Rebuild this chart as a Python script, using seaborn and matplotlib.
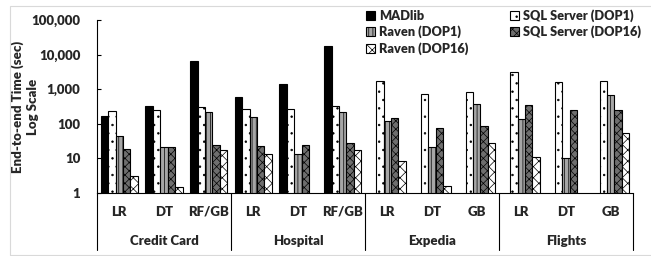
import numpy as np
import pandas as pd
import seaborn as sns
import matplotlib.pyplot as plt
from matplotlib.patches import Rectangle
from matplotlib.ticker import FixedLocator, FuncFormatter, NullLocator

datasets = ["Credit Card", "Hospital", "Expedia", "Flights"]
models = [["LR", "DT", "RF/GB"], ["LR", "DT", "RF/GB"], ["LR", "DT", "GB"], ["LR", "DT", "GB"]]
systems = ["MADlib", "SQL Server (DOP1)", "Raven (DOP1)", "SQL Server (DOP16)", "Raven (DOP16)"]

nan = np.nan
madlib = [170, 330, 6400, 585, 1390, 18000, nan, nan, nan, nan, nan, nan]
sql_dop1 = [235, 250, 300, 275, 275, 325, 1700, 710, 810, 3150, 1610, 1700]
raven_dop1 = [45, 22, 215, 155, 13, 215, 118, 22, 375, 138, 10.3, 690]
sql_dop16 = [19, 21, 24.5, 23, 24, 28, 144, 77, 87, 350, 250, 255]
raven_dop16 = [3.1, 1.45, 17.5, 13.7, nan, 18, 8.6, 1.56, 28.5, 10.7, nan, 56]

sns.set_theme(style="white")
plt.rcParams["font.family"] = ["Lato", "DejaVu Sans"]
plt.rcParams["font.weight"] = "heavy"
plt.rcParams["hatch.linewidth"] = 0.5
FW = "heavy"

# long table for seaborn
cats = [f"{d}|{m}" for d, ms in zip(datasets, models) for m in ms]
rows = []
for s, vals in zip(systems, [madlib, sql_dop1, raven_dop1, sql_dop16, raven_dop16]):
    for c, v in zip(cats, vals):
        rows.append({"cat": c, "system": s, "time": v})
df = pd.DataFrame(rows)

faces = ["black", "white", "#a6a6a6", "#6e6e6e", "white"]
hatches = [None, "..", "||||", "xxxx", "xxx"]

fig = plt.figure(figsize=(6.51, 2.56), dpi=100)
ax = fig.add_axes([97 / 651, 63 / 256, 536 / 651, 173 / 256])
ax.set_yscale("log")

sns.barplot(
    data=df.dropna(),
    x="cat",
    y="time",
    hue="system",
    order=cats,
    hue_order=systems,
    palette=faces,
    saturation=1,
    edgecolor="black",
    linewidth=0.8,
    width=0.83,
    legend=False,
    ax=ax,
)
for cont, h in zip(ax.containers, hatches):
    for p in cont:
        if h:
            p.set_hatch(h)

ax.set_ylim(1, 100000)
ax.set_xlim(-0.5, len(cats) - 0.5)
ax.yaxis.set_major_locator(FixedLocator([1, 10, 100, 1000, 10000, 100000]))
ax.yaxis.set_minor_locator(NullLocator())
ax.yaxis.set_major_formatter(FuncFormatter(lambda v, _: f"{int(v):,}"))
ax.tick_params(axis="y", direction="in", length=3, width=0.8, color="black",
               labelsize=9.5, pad=12, left=True)
ax.set_xticks(range(len(cats)))
ax.set_xticklabels([c.split("|")[1] for c in cats], fontsize=9.5, fontweight=FW)
ax.tick_params(axis="x", length=0, pad=9)
ax.set_xlabel("")
ax.set_ylabel("End-to-end Time (sec)\nLog Scale", fontsize=9.5, fontweight=FW,
              linespacing=1.3)
ax.yaxis.set_label_coords(-0.108, 0.5)
for side in ["top", "right"]:
    ax.spines[side].set_visible(False)
for side in ["left", "bottom"]:
    ax.spines[side].set_color("black")
    ax.spines[side].set_linewidth(0.8)

# two-level category axis
tr = ax.get_xaxis_transform()
for b in [-0.5, 2.5, 5.5, 8.5, 11.5]:
    ax.plot([b, b], [0, -0.33], color="black", lw=0.8, transform=tr, clip_on=False)
for i, d in enumerate(datasets):
    ax.text(3 * i + 1, -0.28, d, transform=tr, ha="center", va="center",
            fontsize=9.5, fontweight=FW)

handles = [ax.containers[i] for i in [0, 2, 4, 1, 3]]
labels = [systems[i] for i in [0, 2, 4, 1, 3]]
fig.legend(handles, labels, ncol=2, loc="upper left",
           bbox_to_anchor=(366 / 651, 1 - 9 / 256), frameon=False,
           fontsize=9.2, handlelength=0.7, handleheight=0.7, handletextpad=0.3,
           columnspacing=3.3, labelspacing=0.3, borderpad=0, borderaxespad=0)

fig.patches.append(Rectangle((10 / 651, 1 / 256), 1.0, 249 / 256, transform=fig.transFigure,
                             fill=False, edgecolor="#d9d9d9", linewidth=0.8))

plt.savefig("out.png", dpi=100)
